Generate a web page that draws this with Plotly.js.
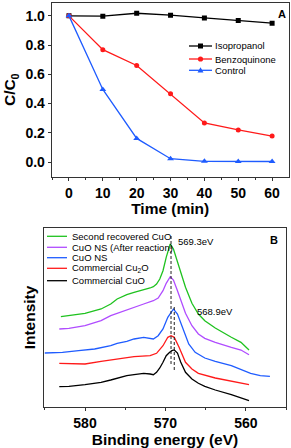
<!DOCTYPE html>
<html><head><meta charset="utf-8">
<script src="https://cdn.plot.ly/plotly-3.0.1.min.js"></script>
<style>html,body{margin:0;padding:0;background:#fff}#chart{width:291px;height:448px}</style>
</head><body><div id="chart"></div>
<script>
// ---------- Panel A data ----------
const timeMin = [0, 10, 20, 30, 40, 50, 60];
const isopropanol = [1.0, 0.998, 1.018, 1.005, 0.986, 0.968, 0.95];
const benzoquinone = [1.0, 0.769, 0.661, 0.467, 0.268, 0.220, 0.178];
const control = [1.0, 0.497, 0.162, 0.023, 0.005, 0.004, 0.004];
const namesA = ['Isopropanol', 'Benzoquinone', 'Control'];

// ---------- Panel B data (binding energy eV, intensity a.u.) ----------
const eCuO = [583.2,582.0,580.0,578.0,576.8,576.0,574.8,573.9,572.7,571.9,571.5,571.1,570.7,570.3,569.9,569.5,569.2,568.9,568.5,568.1,567.5,566.7,565.9,565.1,563.8,561.8,559.6];
const iCuO = [20.3,20.7,22.3,24.7,27.0,29.0,31.3,32.3,33.7,33.0,32.3,34.7,39.0,44.7,51.3,54.5,56.3,57.0,54.0,45.0,34.7,28.0,23.7,20.7,17.0,12.3,6.3];
const eCu2O = [583.2,582.0,580.0,578.0,576.0,573.9,571.9,571.1,570.3,569.7,569.3,568.9,568.3,567.5,566.7,565.9,563.8,561.8,559.6];
const iCu2O = [43.7,43.7,43.0,45.7,48.0,50.3,51.3,53.7,61.3,69.7,71.3,69.7,59.7,44.7,38.0,33.7,29.0,25.7,22.3];
const eNS = [585.0,582.8,580.8,578.8,576.8,576.0,574.8,573.9,572.7,571.5,570.9,570.3,569.7,569.0,568.5,567.9,567.1,566.3,565.1,563.8,561.8,559.4,558.2,557.0];
const iNS = [54.0,54.7,56.3,58.0,61.3,63.7,65.7,68.0,69.7,68.0,71.3,78.0,89.7,98.0,93.0,79.7,63.0,54.7,49.0,45.7,41.3,33.7,31.3,30.7];
const eNSAfter = [583.2,582.0,580.0,578.0,576.8,576.0,574.8,573.9,572.7,571.5,570.9,570.3,569.9,569.4,569.0,568.5,567.9,567.5,566.7,565.9,565.1,563.8,561.8,560.6,559.6];
const iNSAfter = [78.0,78.7,81.3,86.3,91.3,93.7,97.0,99.7,103.0,106.3,109.0,116.3,123.7,130.3,127.0,116.3,103.0,93.7,81.3,73.0,68.7,64.7,59.7,57.0,52.3];
const eSecond = [583.0,582.0,580.0,578.0,576.8,576.0,574.8,573.9,572.7,571.9,571.5,571.1,570.7,570.3,569.9,569.4,569.0,568.5,567.9,567.5,566.7,565.9,565.1,563.8,561.8,560.6,559.6];
const iSecond = [90.3,91.3,93.7,98.0,103.0,108.0,112.3,114.7,117.0,119.0,120.3,123.0,128.0,136.3,149.7,163.0,158.0,144.7,130.3,119.7,103.7,93.0,86.3,79.0,69.7,64.7,57.0];
const namesB = ['Second recovered CuO', 'CuO NS (After reaction)', 'CuO NS', 'Commercial Cu<sub>2</sub>O', 'Commercial CuO'];
const peakLabels = ['569.3eV', '568.9eV'];
const peakE = [569.3, 568.9];
const peakTop = [171, 100];
const peakBottom = [42, 35];

// ---------- styles ----------
const W = 291, H = 448;
const px = x => x / W, py = y => 1 - y / H;
const FONT = 'Liberation Sans, Arial, sans-serif';
const colA = ['#000000', '#ff1a1a', '#1f5cff'];
const symA = ['square', 'circle', 'triangle-up'];
const colB = ['#1fc21f', '#b04cff', '#1f5cff', '#ff1a1a', '#000000'];
const seriesB = [[eSecond, iSecond], [eNSAfter, iNSAfter], [eNS, iNS], [eCu2O, iCu2O], [eCuO, iCuO]];
const valsA = [isopropanol, benzoquinone, control];

const traces = [];
valsA.forEach((v, i) => traces.push({
  x: timeMin, y: v, type: 'scatter', mode: 'lines+markers', name: namesA[i],
  xaxis: 'x', yaxis: 'y', showlegend: false,
  line: {color: colA[i], width: 1.3},
  marker: {symbol: symA[i], size: i === 2 ? 6 : 5, color: colA[i]}
}));
seriesB.forEach((s, i) => traces.push({
  x: s[0], y: s[1], type: 'scatter', mode: 'lines', name: namesB[i],
  xaxis: 'x2', yaxis: 'y2', showlegend: false,
  line: {color: colB[i], width: 1.3}
}));
peakE.forEach((e, i) => traces.push({
  x: [e, e], y: [peakTop[i], peakBottom[i]], type: 'scatter', mode: 'lines',
  xaxis: 'x2', yaxis: 'y2', showlegend: false, hoverinfo: 'skip',
  line: {color: '#222', width: 1, dash: '3px,2px'}
}));

const shapes = [];
const annotations = [];
// legend A (manual, compact like reference)
const legARows = [46, 59, 70.3];
legARows.forEach((yy, i) => {
  shapes.push({type: 'line', xref: 'paper', yref: 'paper', x0: px(189), x1: px(212), y0: py(yy), y1: py(yy), line: {color: colA[i], width: 1.3}});
  if (i === 0) shapes.push({type: 'rect', xref: 'paper', yref: 'paper', xsizemode: 'pixel', ysizemode: 'pixel', xanchor: px(200.5), yanchor: py(yy), x0: -2.5, x1: 2.5, y0: -2.5, y1: 2.5, fillcolor: colA[i], line: {width: 0}});
  if (i === 1) shapes.push({type: 'circle', xref: 'paper', yref: 'paper', xsizemode: 'pixel', ysizemode: 'pixel', xanchor: px(200.5), yanchor: py(yy), x0: -2.6, x1: 2.6, y0: -2.6, y1: 2.6, fillcolor: colA[i], line: {width: 0}});
  if (i === 2) shapes.push({type: 'path', xref: 'paper', yref: 'paper', xsizemode: 'pixel', ysizemode: 'pixel', xanchor: px(200.5), yanchor: py(yy), path: 'M-3,-2.2 L3,-2.2 L0,3 Z', fillcolor: colA[i], line: {width: 0}});
  annotations.push({xref: 'paper', yref: 'paper', x: px(213), y: py(yy), xanchor: 'left', yanchor: 'middle', showarrow: false, text: namesA[i], font: {family: FONT, size: 9.5, color: '#000'}});
});
// legend B
const legBRows = [236.3, 247.3, 257.7, 268.3, 280.7];
legBRows.forEach((yy, i) => {
  shapes.push({type: 'line', xref: 'paper', yref: 'paper', x0: px(47), x1: px(67), y0: py(yy), y1: py(yy), line: {color: colB[i], width: 1.3}});
  annotations.push({xref: 'paper', yref: 'paper', x: px(69.5), y: py(yy), xanchor: 'left', yanchor: 'middle', showarrow: false, text: namesB[i], font: {family: FONT, size: 9.5, color: '#000'}});
});
// peak labels
annotations.push({xref: 'x2', yref: 'y2', x: 568.64, y: 166, xanchor: 'left', yanchor: 'middle', showarrow: false, text: peakLabels[0], font: {family: FONT, size: 9.5, color: '#000'}});
annotations.push({xref: 'x2', yref: 'y2', x: 566.38, y: 96, xanchor: 'left', yanchor: 'middle', showarrow: false, text: peakLabels[1], font: {family: FONT, size: 9.5, color: '#000'}});
// panel letters
annotations.push({xref: 'paper', yref: 'paper', x: px(281.5), y: py(14.5), xanchor: 'center', yanchor: 'middle', showarrow: false, text: 'A', font: {family: FONT, size: 11, weight: 'bold', color: '#000'}});
annotations.push({xref: 'paper', yref: 'paper', x: px(274), y: py(240.5), xanchor: 'center', yanchor: 'middle', showarrow: false, text: 'B', font: {family: FONT, size: 11, weight: 'bold', color: '#000'}});

const axLine = '#333';
const tickFont = {family: FONT, size: 14, weight: 'bold', color: '#000'};
const titleFont = {family: FONT, size: 15.5, weight: 'bold', color: '#000'};

const layout = {
  width: W, height: H,
  margin: {l: 0, r: 0, t: 0, b: 0},
  paper_bgcolor: '#fff', plot_bgcolor: '#fff',
  showlegend: false,
  xaxis: {
    domain: [px(51.7), px(288.7)], anchor: 'y', range: [-5.1, 64.9],
    tickmode: 'linear', tick0: 0, dtick: 10, ticks: 'outside', ticklen: 3, tickcolor: axLine,
    minor: {dtick: 5, ticks: 'outside', ticklen: 2, tickcolor: axLine, showgrid: false},
    showline: true, linecolor: axLine, linewidth: 1, mirror: true, showgrid: false, zeroline: false,
    tickfont: tickFont, title: {text: 'Time (min)', font: titleFont, standoff: 3}
  },
  yaxis: {
    domain: [py(176.7), py(2.7)], anchor: 'x', range: [-0.1, 1.09],
    tickmode: 'linear', tick0: 0, dtick: 0.2, tickformat: '.1f', ticks: 'outside', ticklen: 3, tickcolor: axLine,
    showline: true, linecolor: axLine, linewidth: 1, mirror: true, showgrid: false, zeroline: false,
    tickfont: tickFont, title: {text: 'C/C<sub>0</sub>', font: titleFont, standoff: 5}
  },
  xaxis2: {
    domain: [px(44), px(286)], anchor: 'y2', range: [585.1, 555.0],
    tickmode: 'linear', tick0: 560, dtick: 10, ticks: 'outside', ticklen: 3, tickcolor: axLine,
    minor: {dtick: 5, ticks: 'outside', ticklen: 2, tickcolor: axLine, showgrid: false},
    showline: true, linecolor: axLine, linewidth: 1, mirror: true, showgrid: false, zeroline: false,
    tickfont: tickFont, title: {text: 'Binding energy (eV)', font: titleFont, standoff: 1}
  },
  yaxis2: {
    domain: [py(407), py(228)], anchor: 'x2', range: [0, 179],
    showticklabels: false, ticks: '',
    showline: true, linecolor: axLine, linewidth: 1, mirror: true, showgrid: false, zeroline: false,
    title: {text: 'Intensity', font: titleFont, standoff: 3}
  },
  shapes: shapes,
  annotations: annotations
};

Plotly.newPlot('chart', traces, layout, {displayModeBar: false, staticPlot: true});
</script></body></html>
